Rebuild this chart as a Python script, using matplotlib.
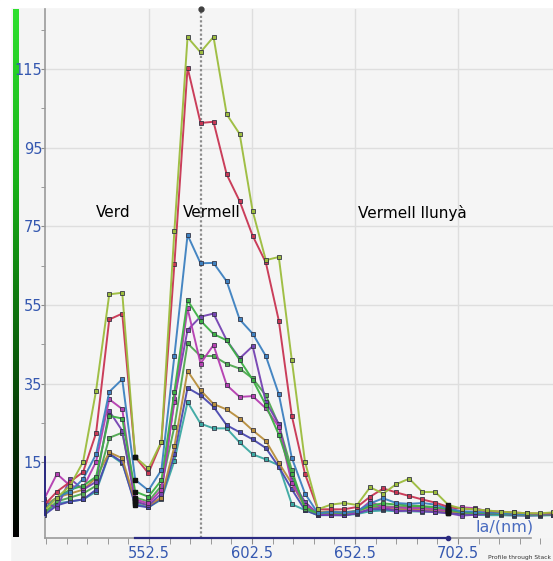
import numpy as np
import matplotlib
matplotlib.use("Agg")
import matplotlib.pyplot as plt
from matplotlib.colors import LinearSegmentedColormap

# Emission wavelength of each spectral channel (nm)
wavelengths = [501.5, 507.8, 514.2, 520.5, 526.8, 533.2, 539.5, 545.8, 552.2, 558.5,
               564.8, 571.2, 577.5, 583.8, 590.2, 596.5, 602.8, 609.2, 615.5, 621.8,
               628.2, 634.5, 640.8, 647.2, 653.5, 659.8, 666.2, 672.5, 678.8, 685.2,
               691.5, 697.8, 704.2, 710.5, 716.8, 723.2, 729.5, 735.8, 742.2, 748.5]

# Mean intensity per region of interest
roi_olive = [2.5, 6, 9, 15.1, 33.2, 57.7, 58.1, 16.3, 13.4, 20.2, 73.8, 123.1, 119.3, 123.2, 103.5, 98.5,
             78.9, 66.4, 67.2, 41, 15.1, 3, 4.2, 4.6, 4.1, 8.6, 7.0, 9.4, 10.8, 7.4, 7.4, 4.1, 3.2, 3.0,
             2.7, 2.4, 2.2, 2.0, 2.0, 2.2]
roi_red = [4, 7.5, 10, 12.5, 22.4, 51.3, 52.8, 16.3, 12.2, 20, 65.3, 115.4, 101.3, 101.6, 88.2, 81.4,
           72.6, 65.8, 51, 26.8, 12, 3, 3, 3, 3.6, 6.2, 8.3, 7.3, 6.4, 5.5, 4.7, 3.6, 3.2, 3.0, 2.6,
           2.4, 2.2, 2.0, 1.9, 2.0]
roi_blue = [3, 6, 7.5, 10.7, 17, 32.9, 36.1, 10.5, 7.8, 13, 42, 72.8, 65.6, 65.7, 61, 51.3, 47.7, 42,
            32.3, 16.1, 7, 2, 2.4, 2.2, 2.5, 4.5, 5.8, 4.6, 4.4, 4.6, 4.2, 3.2, 2.5, 2.4, 2.2, 2.0, 1.8,
            1.7, 1.7, 1.8]
roi_magenta = [5.5, 12, 9, 8.5, 15.1, 31, 28.5, 5.5, 4.5, 8, 30.3, 54.1, 40.1, 44.8, 34.6, 31.6, 31.8,
               28.7, 24, 9.6, 4.1, 2, 2, 2, 2.3, 5, 3.5, 3.5, 3.3, 3.3, 3.0, 2.7, 3.5, 3.3, 2.5, 2.0,
               1.7, 1.6, 1.6, 1.7]
roi_green = [3, 6, 8, 9, 11.3, 26.8, 26.1, 7.5, 6.2, 10.4, 32.9, 56.2, 51, 47.6, 46, 41, 36, 29.5, 22,
             12, 3.5, 2, 2.2, 2.0, 2.6, 4, 4.5, 4.2, 4.0, 3.8, 3.6, 3.0, 2.3, 2.2, 2.0, 1.8, 1.7, 1.6,
             1.6, 1.7]
roi_purple = [5, 3.3, 10.8, 8, 10, 28, 23, 5, 4, 7, 31, 48.6, 52, 52.8, 46, 41.4, 44.5, 30.3, 24.7,
              10.4, 4.9, 1.8, 1.5, 1.5, 2.0, 3.0, 3.5, 2.5, 2.7, 2.5, 2.3, 2.0, 1.4, 1.6, 1.8, 1.8, 1.5,
              1.4, 1.5, 1.6]
roi_green2 = [2, 5, 6, 7, 9, 21.2, 22.5, 6, 5, 9, 24, 45.2, 42, 42, 40, 38.8, 36.3, 32, 24.5, 13, 3, 2,
              2.2, 2.0, 2.5, 3.8, 3.8, 3.6, 3.6, 3.6, 3.3, 2.8, 2.3, 2.0, 1.9, 1.8, 1.7, 1.6, 1.6, 1.7]
roi_orange = [4, 6, 7, 8, 11, 17.5, 16, 5, 4, 6, 19, 38.2, 33.3, 29.8, 28.4, 26.1, 23.1, 20.4, 14.8,
              9.6, 3.6, 2.3, 2.5, 2.3, 2.6, 3.5, 3.4, 3.2, 3.0, 3.0, 2.8, 2.5, 2.2, 2.0, 2.0, 1.8, 1.7,
              1.6, 1.8, 2.0]
roi_indigo = [1.5, 4, 5, 5.5, 8, 17.2, 15, 4, 3.5, 5.8, 17, 33.9, 32, 29.1, 24.4, 22.6, 20.8, 18.6,
              13.8, 8.1, 2.8, 1.5, 1.6, 1.5, 2.0, 3.0, 3.0, 2.8, 2.8, 2.8, 2.6, 2.2, 2.0, 1.8, 1.8, 2.4,
              1.7, 1.5, 1.6, 1.6]
roi_teal = [2, 4.5, 5, 5.5, 7.5, 17, 14.7, 4.5, 3.5, 5.5, 15.3, 30.3, 24.8, 23.6, 23.6, 20, 17, 15.7,
            14.2, 4.3, 2.8, 1.5, 1.5, 1.5, 1.8, 2.5, 2.7, 2.5, 2.5, 2.4, 2.3, 2.0, 1.8, 1.6, 1.5, 1.5,
            1.4, 1.4, 1.4, 1.5]

series = [
    (roi_teal, "#3aa8a2"),
    (roi_indigo, "#4a48b0"),
    (roi_orange, "#b88e3c"),
    (roi_green2, "#4fa84f"),
    (roi_purple, "#7442b2"),
    (roi_magenta, "#b43cb0"),
    (roi_green, "#3cb044"),
    (roi_blue, "#3c80c0"),
    (roi_red, "#c83452"),
    (roi_olive, "#9cbc3c"),
]

region_labels = ["Verd", "Vermell", "Vermell llunyà"]
region_label_x = [526.8, 569.0, 654.0]
region_label_y = 78.4

y_major = [15, 35, 55, 75, 95, 115]
y_minor = [5, 25, 45, 65, 85, 105, 125]
x_major = [552.5, 602.5, 652.5, 702.5]
x_minor = list(np.arange(502.5, 745, 10))

cursor_channel = 12
range_start, range_end = 7, 31

W, H = 553, 561
fig = plt.figure(figsize=(W / 100, H / 100), dpi=100)
fig.patch.set_facecolor("#f4f4f4")

# white frame strips on top and left
fig.add_artist(plt.Rectangle((0, 1 - 7 / H), 1, 7 / H, transform=fig.transFigure,
                             color="white", zorder=0))
fig.add_artist(plt.Rectangle((0, 0), 10 / W, 1, transform=fig.transFigure,
                             color="white", zorder=0))

# intensity colour bar on the left
cbar_ax = fig.add_axes([13 / W, (H - 537) / H, 6 / W, (537 - 9) / H])
grad = np.linspace(1, 0, 256).reshape(-1, 1)
cmap = LinearSegmentedColormap.from_list("lut", ["#000000", "#0a5a0a", "#18b018", "#2ee02e"])
cbar_ax.imshow(grad, aspect="auto", cmap=cmap, vmin=0, vmax=1)
cbar_ax.set_axis_off()

ax = fig.add_axes([45 / W, (H - 538) / H, (W - 45) / W, (538 - 9) / H])
ax.set_facecolor("#f5f5f5")
ax.set_xlim(502.0, 748.6)
ax.set_ylim(-4.3, 130.3)

ax.set_xticks(x_major)
ax.set_xticks(x_minor, minor=True)
ax.set_yticks(y_major)
ax.set_yticks(y_minor, minor=True)
ax.grid(True, which="major", color="#dedede", linewidth=1.0)
ax.set_axisbelow(True)

tick_blue = "#3558b0"
ax.tick_params(axis="x", which="both", direction="out", length=4, color="#8a8a8a",
               labelcolor=tick_blue, labelsize=10.5, pad=1.5)
ax.tick_params(axis="y", which="both", direction="out", length=3, color="#8a8a8a",
               labelcolor=tick_blue, labelsize=10.5, pad=-1)
ax.set_xticklabels([f"{v:.1f}" for v in x_major])
ax.set_yticklabels([str(v) for v in y_major])

for side in ["top", "right"]:
    ax.spines[side].set_visible(False)
ax.spines["left"].set_color("#9a9a9a")
ax.spines["left"].set_linewidth(1.2)
ax.spines["bottom"].set_color("#9a9a9a")
ax.spines["bottom"].set_linewidth(1.2)
ax.spines["bottom"].set_bounds(502.0, 738.0)

# selected channel range along the wavelength axis
ax.plot([wavelengths[range_start], wavelengths[range_end]], [-4.3, -4.3], color="#2a2a80",
        linewidth=1.6, clip_on=False, zorder=5)
ax.plot([wavelengths[range_end]], [-4.3], marker="o", markersize=3, color="#2a2a80",
        clip_on=False, zorder=5)
ax.plot([502.0, 502.0], [1.5, 16.3], color="#2a2a80", linewidth=1.4, clip_on=False, zorder=5)

# cursor at the current channel
cx = wavelengths[cursor_channel]
ax.axvline(cx, color="#8c8c8c", linewidth=1.6, linestyle=(0, (1, 1)), zorder=2)
ax.plot([cx], [130.3], marker="o", markersize=3.5, color="#404040", clip_on=False, zorder=6)

for values, color in series:
    ax.plot(wavelengths, values, color=color, linewidth=1.4, marker="s", markersize=3,
            markerfacecolor=color, markeredgecolor="#303040", markeredgewidth=0.6, zorder=3,
            alpha=0.95)
    # channels at the ends of the selected range are highlighted
    ax.plot([wavelengths[range_start], wavelengths[range_end]],
            [values[range_start], values[range_end]], linestyle="none", marker="s",
            markersize=3.5, color="#111111", zorder=4)

for label, lx in zip(region_labels, region_label_x):
    ax.text(lx, region_label_y, label, fontsize=11, color="black", ha="left", va="center",
            zorder=6)

ax.text(502.0 + (475 - 45) / 2.06, -1.6, "la/(nm)", fontsize=11.5, color="#4a6cc0",
        ha="left", va="center", zorder=6)
fig.text(551 / W, 1 - 557 / H, "Profile through Stack", fontsize=4.3, color="#333333",
         ha="right", va="center")

fig.savefig("out.png", dpi=100, facecolor=fig.get_facecolor())
